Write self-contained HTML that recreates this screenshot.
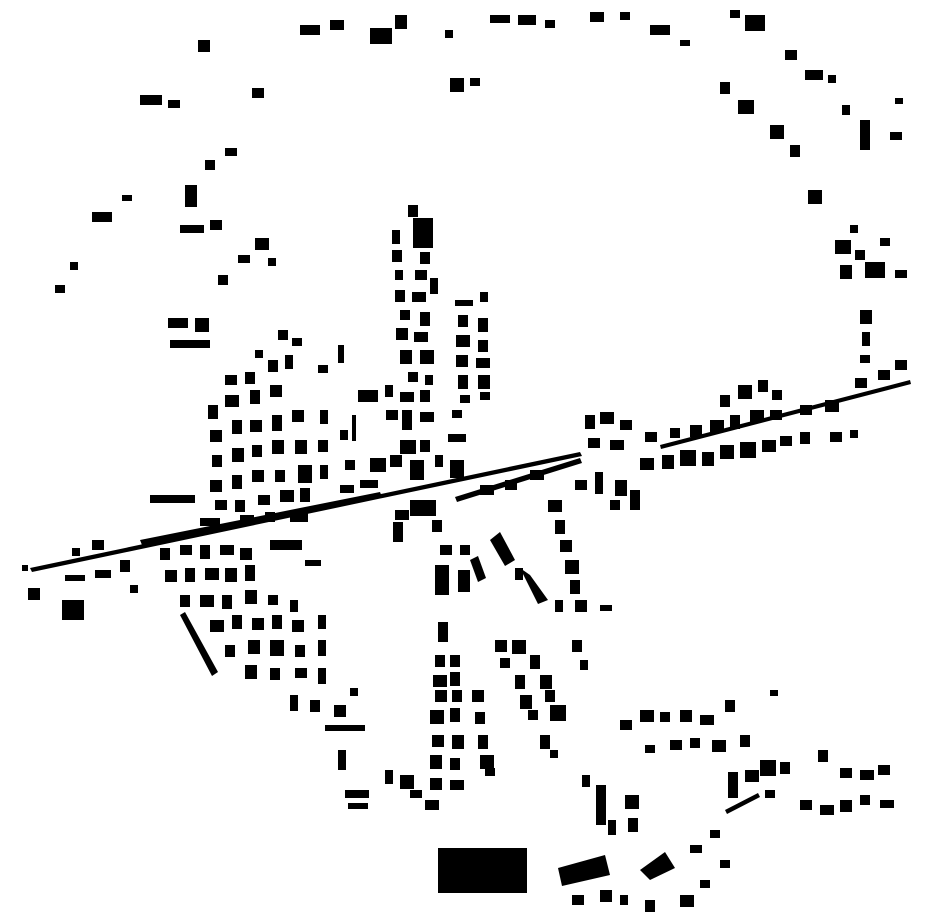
<!DOCTYPE html>
<html><head><meta charset="utf-8"><style>html,body{margin:0;padding:0;background:#fff;}svg{display:block}</style></head>
<body>
<svg width="930" height="924" viewBox="0 0 930 924" xmlns="http://www.w3.org/2000/svg" fill="#000">
<!-- main diagonal road line -->
<polygon points="30,568 580,452 582,456 32,572" />
<polygon points="140,540 380,492 382,497 142,545"/>
<polygon points="455,497 580,458 582,463 457,502"/>
<!-- big rect -->
<rect x="438" y="848" width="89" height="45"/>
<!-- bottom industrial -->
<polygon points="558,868 605,855 610,875 562,886"/>
<polygon points="640,870 665,852 675,868 650,880"/>
<rect x="596" y="785" width="10" height="40"/><rect x="625" y="795" width="14" height="14"/><rect x="628" y="818" width="10" height="14"/>
<rect x="608" y="820" width="8" height="15"/><rect x="582" y="775" width="8" height="12"/>
<rect x="572" y="895" width="12" height="10"/><rect x="600" y="890" width="12" height="12"/><rect x="620" y="895" width="8" height="10"/><rect x="645" y="900" width="10" height="12"/><rect x="680" y="895" width="14" height="12"/><rect x="700" y="880" width="10" height="8"/><rect x="720" y="860" width="10" height="8"/>
<rect x="690" y="845" width="12" height="8"/><rect x="710" y="830" width="10" height="8"/>
<!-- vertical north cluster -->
<rect x="408" y="205" width="10" height="12"/><rect x="413" y="218" width="20" height="30"/><rect x="392" y="230" width="8" height="14"/>
<rect x="392" y="250" width="10" height="12"/><rect x="420" y="252" width="10" height="12"/><rect x="395" y="270" width="8" height="10"/><rect x="415" y="270" width="12" height="10"/>
<rect x="430" y="278" width="8" height="16"/><rect x="395" y="290" width="10" height="12"/><rect x="412" y="292" width="14" height="10"/>
<rect x="400" y="310" width="10" height="10"/><rect x="420" y="312" width="10" height="14"/><rect x="396" y="328" width="12" height="12"/><rect x="414" y="332" width="14" height="10"/>
<rect x="400" y="350" width="12" height="14"/><rect x="420" y="350" width="14" height="14"/><rect x="408" y="372" width="10" height="10"/><rect x="425" y="375" width="8" height="10"/>
<rect x="385" y="385" width="8" height="12"/><rect x="400" y="392" width="14" height="10"/><rect x="420" y="390" width="10" height="12"/>
<rect x="386" y="410" width="12" height="10"/><rect x="402" y="410" width="10" height="20"/><rect x="420" y="412" width="14" height="10"/>
<rect x="400" y="440" width="16" height="14"/><rect x="420" y="440" width="10" height="12"/><rect x="390" y="455" width="12" height="12"/><rect x="410" y="460" width="14" height="20"/><rect x="435" y="455" width="8" height="12"/>
<rect x="448" y="434" width="18" height="8"/><rect x="450" y="460" width="14" height="18"/><rect x="452" y="410" width="10" height="8"/>
<rect x="358" y="390" width="20" height="12"/><rect x="370" y="458" width="16" height="14"/><rect x="352" y="415" width="4" height="26"/><rect x="338" y="345" width="6" height="18"/><rect x="318" y="365" width="10" height="8"/>
<!-- cluster east of north -->
<rect x="455" y="300" width="18" height="6"/><rect x="480" y="292" width="8" height="10"/><rect x="458" y="315" width="10" height="12"/><rect x="478" y="318" width="10" height="14"/>
<rect x="456" y="335" width="14" height="12"/><rect x="478" y="340" width="10" height="12"/><rect x="456" y="355" width="12" height="12"/><rect x="476" y="358" width="14" height="10"/>
<rect x="458" y="375" width="10" height="14"/><rect x="478" y="375" width="12" height="14"/><rect x="460" y="395" width="10" height="8"/><rect x="480" y="392" width="10" height="8"/>
<!-- west dense -->
<rect x="225" y="375" width="12" height="10"/><rect x="245" y="372" width="10" height="12"/><rect x="268" y="360" width="10" height="12"/><rect x="285" y="355" width="8" height="14"/>
<rect x="208" y="405" width="10" height="14"/><rect x="225" y="395" width="14" height="12"/><rect x="250" y="390" width="10" height="14"/><rect x="270" y="385" width="12" height="12"/>
<rect x="210" y="430" width="12" height="12"/><rect x="232" y="420" width="10" height="14"/><rect x="250" y="420" width="12" height="12"/><rect x="272" y="415" width="10" height="16"/><rect x="292" y="410" width="12" height="12"/><rect x="320" y="410" width="8" height="14"/>
<rect x="212" y="455" width="10" height="12"/><rect x="232" y="448" width="12" height="14"/><rect x="252" y="445" width="10" height="12"/><rect x="272" y="440" width="12" height="14"/><rect x="295" y="440" width="12" height="14"/><rect x="318" y="440" width="10" height="12"/><rect x="340" y="430" width="8" height="10"/>
<rect x="210" y="480" width="12" height="12"/><rect x="232" y="475" width="10" height="14"/><rect x="252" y="470" width="12" height="12"/><rect x="275" y="470" width="10" height="12"/><rect x="298" y="465" width="14" height="18"/><rect x="320" y="465" width="8" height="14"/><rect x="345" y="460" width="10" height="10"/>
<rect x="150" y="495" width="45" height="8"/><rect x="215" y="500" width="12" height="10"/><rect x="235" y="500" width="10" height="12"/><rect x="258" y="495" width="12" height="10"/><rect x="280" y="490" width="14" height="12"/><rect x="300" y="488" width="10" height="14"/><rect x="340" y="485" width="14" height="8"/><rect x="360" y="480" width="18" height="8"/>
<rect x="200" y="518" width="20" height="8"/><rect x="240" y="515" width="14" height="8"/><rect x="265" y="512" width="10" height="10"/><rect x="290" y="512" width="18" height="10"/>
<rect x="270" y="540" width="32" height="10"/><rect x="305" y="560" width="16" height="6"/>
<rect x="160" y="548" width="10" height="12"/><rect x="180" y="545" width="12" height="10"/><rect x="200" y="545" width="10" height="14"/><rect x="220" y="545" width="14" height="10"/><rect x="240" y="548" width="12" height="12"/>
<rect x="165" y="570" width="12" height="12"/><rect x="185" y="568" width="10" height="14"/><rect x="205" y="568" width="14" height="12"/><rect x="225" y="568" width="12" height="14"/><rect x="245" y="565" width="10" height="16"/>
<rect x="180" y="595" width="10" height="12"/><rect x="200" y="595" width="14" height="12"/><rect x="222" y="595" width="10" height="14"/><rect x="245" y="590" width="12" height="14"/><rect x="268" y="595" width="10" height="10"/><rect x="290" y="600" width="8" height="12"/>
<rect x="210" y="620" width="14" height="12"/><rect x="232" y="615" width="10" height="14"/><rect x="252" y="618" width="12" height="12"/><rect x="272" y="615" width="10" height="14"/><rect x="292" y="620" width="12" height="12"/><rect x="318" y="615" width="8" height="14"/>
<rect x="225" y="645" width="10" height="12"/><rect x="248" y="640" width="12" height="14"/><rect x="270" y="640" width="14" height="16"/><rect x="295" y="645" width="10" height="12"/><rect x="318" y="640" width="8" height="16"/>
<rect x="245" y="665" width="12" height="14"/><rect x="270" y="668" width="10" height="12"/><rect x="295" y="668" width="12" height="10"/><rect x="318" y="668" width="8" height="16"/>
<polygon points="180,615 185,612 218,672 212,676"/>
<!-- far west -->
<rect x="28" y="588" width="12" height="12"/><rect x="62" y="600" width="22" height="20"/><rect x="65" y="575" width="20" height="6"/><rect x="92" y="540" width="12" height="10"/><rect x="95" y="570" width="16" height="8"/><rect x="72" y="548" width="8" height="8"/><rect x="120" y="560" width="10" height="12"/><rect x="130" y="585" width="8" height="8"/><rect x="22" y="565" width="6" height="6"/>
<!-- south center -->
<rect x="393" y="522" width="10" height="20"/><rect x="395" y="510" width="14" height="10"/><rect x="410" y="500" width="26" height="16"/><rect x="432" y="520" width="10" height="12"/>
<rect x="435" y="565" width="14" height="30"/><rect x="458" y="570" width="12" height="22"/><rect x="440" y="545" width="12" height="10"/><rect x="460" y="545" width="10" height="10"/>
<polygon points="490,540 500,532 515,560 505,566"/><polygon points="470,560 478,556 486,578 478,582"/>
<rect x="438" y="622" width="10" height="20"/><rect x="435" y="655" width="10" height="12"/><rect x="450" y="655" width="10" height="12"/>
<rect x="433" y="675" width="14" height="12"/><rect x="450" y="672" width="10" height="14"/><rect x="435" y="690" width="12" height="12"/><rect x="452" y="690" width="10" height="12"/><rect x="472" y="690" width="12" height="12"/>
<rect x="430" y="710" width="14" height="14"/><rect x="450" y="708" width="10" height="14"/><rect x="475" y="712" width="10" height="12"/>
<rect x="432" y="735" width="12" height="12"/><rect x="452" y="735" width="12" height="14"/><rect x="478" y="735" width="10" height="14"/>
<rect x="430" y="755" width="12" height="14"/><rect x="450" y="758" width="10" height="12"/><rect x="480" y="755" width="14" height="14"/><rect x="485" y="768" width="10" height="8"/>
<rect x="430" y="778" width="12" height="12"/><rect x="450" y="780" width="14" height="10"/><rect x="425" y="800" width="14" height="10"/>
<rect x="385" y="770" width="8" height="14"/><rect x="400" y="775" width="14" height="14"/><rect x="410" y="790" width="12" height="8"/>
<rect x="345" y="790" width="24" height="8"/><rect x="348" y="803" width="20" height="6"/><rect x="338" y="750" width="8" height="20"/>
<rect x="325" y="725" width="40" height="6"/><rect x="334" y="705" width="12" height="12"/><rect x="290" y="695" width="8" height="16"/><rect x="310" y="700" width="10" height="12"/><rect x="350" y="688" width="8" height="8"/>
<!-- south-east diagonal -->
<polygon points="520,568 530,575 548,600 538,604"/><rect x="515" y="568" width="8" height="12"/>
<rect x="548" y="500" width="14" height="12"/><rect x="555" y="520" width="10" height="14"/><rect x="560" y="540" width="12" height="12"/><rect x="565" y="560" width="14" height="14"/><rect x="570" y="580" width="10" height="14"/><rect x="575" y="600" width="12" height="12"/><rect x="555" y="600" width="8" height="12"/>
<rect x="495" y="640" width="12" height="12"/><rect x="512" y="640" width="14" height="14"/><rect x="500" y="658" width="10" height="10"/><rect x="530" y="655" width="10" height="14"/>
<rect x="515" y="675" width="10" height="14"/><rect x="540" y="675" width="12" height="14"/><rect x="520" y="695" width="12" height="14"/><rect x="545" y="690" width="10" height="12"/>
<rect x="528" y="710" width="10" height="10"/><rect x="550" y="705" width="16" height="16"/><rect x="540" y="735" width="10" height="14"/><rect x="550" y="750" width="8" height="8"/>
<rect x="572" y="640" width="10" height="12"/><rect x="580" y="660" width="8" height="10"/><rect x="600" y="605" width="12" height="6"/>
<!-- east strip -->
<rect x="585" y="415" width="10" height="14"/><rect x="600" y="412" width="14" height="12"/><rect x="620" y="420" width="12" height="10"/><rect x="588" y="438" width="12" height="10"/><rect x="610" y="440" width="14" height="10"/><rect x="645" y="432" width="12" height="10"/>
<rect x="595" y="472" width="8" height="22"/><rect x="615" y="480" width="12" height="16"/><rect x="630" y="490" width="10" height="20"/><rect x="610" y="500" width="10" height="10"/>
<rect x="575" y="480" width="12" height="10"/><rect x="530" y="470" width="14" height="10"/><rect x="505" y="480" width="12" height="10"/><rect x="480" y="485" width="14" height="10"/>
<rect x="640" y="458" width="14" height="12"/><rect x="662" y="455" width="12" height="14"/><rect x="680" y="450" width="16" height="16"/><rect x="702" y="452" width="12" height="14"/><rect x="720" y="445" width="14" height="14"/><rect x="740" y="442" width="16" height="16"/><rect x="762" y="440" width="14" height="12"/><rect x="780" y="436" width="12" height="10"/><rect x="800" y="432" width="10" height="12"/><rect x="830" y="432" width="12" height="10"/><rect x="850" y="430" width="8" height="8"/>
<rect x="670" y="428" width="10" height="10"/><rect x="690" y="425" width="12" height="12"/><rect x="710" y="420" width="14" height="12"/><rect x="730" y="415" width="10" height="14"/><rect x="750" y="410" width="14" height="12"/><rect x="770" y="410" width="12" height="10"/>
<rect x="720" y="395" width="10" height="12"/><rect x="738" y="385" width="14" height="14"/><rect x="758" y="380" width="10" height="12"/><rect x="772" y="390" width="10" height="10"/><rect x="800" y="405" width="12" height="10"/><rect x="825" y="400" width="14" height="12"/><rect x="855" y="378" width="12" height="10"/><rect x="878" y="370" width="12" height="10"/><rect x="895" y="360" width="12" height="10"/>
<polygon points="660,445 910,380 911,384 661,449"/>
<!-- south-east cluster -->
<rect x="620" y="720" width="12" height="10"/><rect x="640" y="710" width="14" height="12"/><rect x="660" y="712" width="10" height="10"/><rect x="680" y="710" width="12" height="12"/><rect x="700" y="715" width="14" height="10"/><rect x="725" y="700" width="10" height="12"/>
<rect x="645" y="745" width="10" height="8"/><rect x="670" y="740" width="12" height="10"/><rect x="690" y="738" width="10" height="10"/><rect x="712" y="740" width="14" height="12"/><rect x="740" y="735" width="10" height="12"/>
<rect x="728" y="772" width="10" height="26"/><rect x="745" y="770" width="14" height="12"/><rect x="760" y="760" width="16" height="16"/><rect x="780" y="762" width="10" height="12"/><rect x="818" y="750" width="10" height="12"/><rect x="840" y="768" width="12" height="10"/><rect x="860" y="770" width="14" height="10"/><rect x="878" y="765" width="12" height="10"/>
<rect x="800" y="800" width="12" height="10"/><rect x="820" y="805" width="14" height="10"/><rect x="840" y="800" width="12" height="12"/><rect x="860" y="795" width="10" height="10"/><rect x="880" y="800" width="14" height="8"/><rect x="765" y="790" width="10" height="8"/><rect x="770" y="690" width="8" height="6"/>
<polygon points="725,810 758,793 760,797 727,814"/>
<!-- ring north -->
<rect x="140" y="95" width="22" height="10"/><rect x="168" y="100" width="12" height="8"/><rect x="198" y="40" width="12" height="12"/><rect x="252" y="88" width="12" height="10"/>
<rect x="300" y="25" width="20" height="10"/><rect x="330" y="20" width="14" height="10"/><rect x="370" y="28" width="22" height="16"/><rect x="395" y="15" width="12" height="14"/><rect x="445" y="30" width="8" height="8"/>
<rect x="450" y="78" width="14" height="14"/><rect x="470" y="78" width="10" height="8"/>
<rect x="490" y="15" width="20" height="8"/><rect x="518" y="15" width="18" height="10"/><rect x="545" y="20" width="10" height="8"/><rect x="590" y="12" width="14" height="10"/><rect x="620" y="12" width="10" height="8"/><rect x="650" y="25" width="20" height="10"/><rect x="680" y="40" width="10" height="6"/>
<rect x="730" y="10" width="10" height="8"/><rect x="745" y="15" width="20" height="16"/><rect x="785" y="50" width="12" height="10"/><rect x="805" y="70" width="18" height="10"/><rect x="828" y="75" width="8" height="8"/>
<rect x="720" y="82" width="10" height="12"/><rect x="738" y="100" width="16" height="14"/><rect x="770" y="125" width="14" height="14"/><rect x="790" y="145" width="10" height="12"/><rect x="842" y="105" width="8" height="10"/><rect x="860" y="120" width="10" height="30"/><rect x="890" y="132" width="12" height="8"/><rect x="895" y="98" width="8" height="6"/>
<rect x="808" y="190" width="14" height="14"/><rect x="835" y="240" width="16" height="14"/><rect x="855" y="250" width="10" height="10"/><rect x="865" y="262" width="20" height="16"/><rect x="880" y="238" width="10" height="8"/><rect x="840" y="265" width="12" height="14"/><rect x="895" y="270" width="12" height="8"/><rect x="850" y="225" width="8" height="8"/>
<rect x="860" y="310" width="12" height="14"/><rect x="862" y="332" width="8" height="14"/><rect x="860" y="355" width="10" height="8"/>
<rect x="185" y="185" width="12" height="22"/><rect x="205" y="160" width="10" height="10"/><rect x="225" y="148" width="12" height="8"/><rect x="180" y="225" width="24" height="8"/><rect x="210" y="220" width="12" height="10"/>
<rect x="92" y="212" width="20" height="10"/><rect x="122" y="195" width="10" height="6"/><rect x="70" y="262" width="8" height="8"/><rect x="55" y="285" width="10" height="8"/>
<rect x="238" y="255" width="12" height="8"/><rect x="255" y="238" width="14" height="12"/><rect x="268" y="258" width="8" height="8"/><rect x="218" y="275" width="10" height="10"/>
<rect x="168" y="318" width="20" height="10"/><rect x="170" y="340" width="40" height="8"/><rect x="195" y="318" width="14" height="14"/>
<rect x="278" y="330" width="10" height="10"/><rect x="292" y="338" width="10" height="8"/><rect x="255" y="350" width="8" height="8"/>
</svg>
</body></html>
